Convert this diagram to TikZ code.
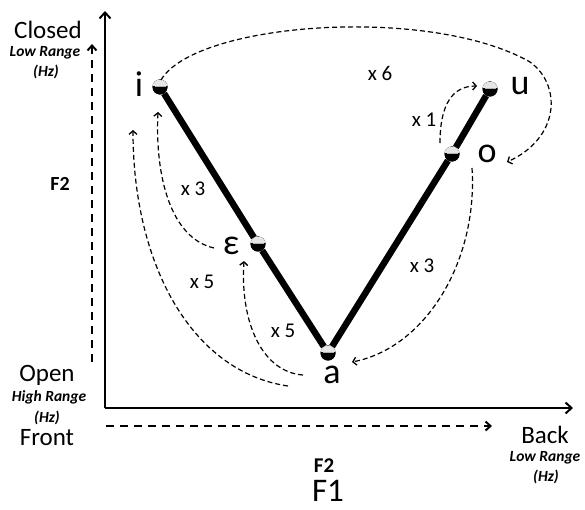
\documentclass[tikz,border=0pt]{standalone}
\usepackage{fontspec}
\setmainfont{Carlito}
\usetikzlibrary{arrows.meta}
\begin{document}
\begin{tikzpicture}[x=1pt,y=-1pt,
  vdot/.style={circle,fill=black,minimum size=15pt,inner sep=0pt,
    path picture={\fill[gray!20] (path picture bounding box.north west) rectangle ([yshift=1pt]path picture bounding box.east);
      \draw[gray!60,line width=0.6pt] ([xshift=2pt,yshift=1pt]path picture bounding box.west) -- ([xshift=-2pt,yshift=1pt]path picture bounding box.east);}},
  vlabel/.style={font=\fontsize{36}{38}\selectfont},
  axlabel/.style={font=\fontsize{25}{27}\selectfont},
  rangelabel/.style={font=\fontsize{15.5}{17}\selectfont\bfseries\itshape},
  cnt/.style={font=\fontsize{21}{23}\selectfont},
  axis/.style={line width=2.2pt,-{Straight Barb[length=6pt,width=11pt,line width=2pt]}},
  daxis/.style={line width=2.6pt,dash pattern=on 8pt off 6pt,-{Straight Barb[length=5pt,width=9pt,line width=2pt]}},
  vline/.style={line width=6.5pt},
  move/.style={line width=1.2pt,dash pattern=on 5pt off 3pt,-{Straight Barb[length=3.5pt,width=8pt,line width=1.3pt]}}
]
\useasboundingbox (0,0) rectangle (585,509);
% axes
\coordinate (O) at (105,408);
\coordinate (Ytop) at (105,11);
\coordinate (Xend) at (573,408);
\draw[axis] (O) -- (Ytop);
\draw[axis] (O) -- (Xend);
\coordinate (dy0) at (92,362);
\coordinate (dy1) at (92,44);
\draw[daxis] (dy0) -- (dy1);
\coordinate (dx0) at (106,426);
\coordinate (dx1) at (492,426);
\draw[daxis] (dx0) -- (dx1);
% axis labels
\node[axlabel] (closed) at (48,30) {Closed};
\node[rangelabel] (lr1) at (45,53) {Low Range};
\node[rangelabel] (hz1) at (46,72) {(Hz)};
\node[font=\fontsize{20}{22}\selectfont\bfseries] (f2l) at (60,184) {F2};
\node[axlabel] (open) at (47,375) {Open};
\node[rangelabel] (hr) at (49,397) {High Range};
\node[rangelabel] (hz2) at (47,418) {(Hz)};
\node[axlabel] (front) at (47,438) {Front};
\node[axlabel] (back) at (545,435) {Back};
\node[rangelabel] (lr2) at (545,458) {Low Range};
\node[rangelabel] (hz3) at (546,477) {(Hz)};
\node[font=\fontsize{21}{23}\selectfont\bfseries] (f2b) at (324,466) {F2};
\node[font=\fontsize{33}{35}\selectfont] (f1b) at (328,491) {F1};
% vowel points
\node[vdot] (i) at (160,87) {};
\node[vdot] (u) at (490,89) {};
\node[vdot] (o) at (452,154) {};
\node[vdot] (e) at (258,244) {};
\node[vdot] (a) at (328,353) {};
\draw[vline] (i) -- (e) -- (a) -- (o) -- (u);
\node[vdot] at (i) {};
\node[vdot] at (u) {};
\node[vdot] at (o) {};
\node[vdot] at (e) {};
\node[vdot] at (a) {};
% vowel labels
\node[vlabel] (il) at (139,84) {i};
\node[vlabel] (ul) at (520,86) {u};
\node[vlabel] (ol) at (487,154) {o};
\node[vlabel] (el) at (231,246) {ε};
\node[vlabel] (al) at (332,375) {a};
% movements
\coordinate (s6) at (161,80);
\coordinate (t6) at (507,162);
\draw[move] (s6) .. controls (195,22) and (430,5) .. (530,62) .. controls (562,85) and (560,138) .. (t6);
\node[cnt] (c6) at (380,73) {x 6};
\coordinate (s1) at (440,143);
\coordinate (t1) at (477,86);
\draw[move] (s1) .. controls (440,105) and (452,86) .. (t1);
\node[cnt] (c1) at (424,120) {x 1};
\coordinate (s3r) at (472,168);
\coordinate (t3r) at (352,362);
\draw[move] (s3r) .. controls (478,262) and (425,348) .. (t3r);
\node[cnt] (c3r) at (422,266) {x 3};
\coordinate (s3l) at (214,248);
\coordinate (t3l) at (158,112);
\draw[move] (s3l) .. controls (170,238) and (155,175) .. (t3l);
\node[cnt] (c3l) at (193,189) {x 3};
\coordinate (s5l) at (288,386);
\coordinate (t5l) at (133,130);
\draw[move] (s5l) .. controls (192,372) and (133,265) .. (t5l);
\node[cnt] (c5l) at (202,282) {x 5};
\coordinate (s5s) at (303,375);
\coordinate (t5s) at (244,261);
\draw[move] (s5s) .. controls (262,372) and (240,322) .. (t5s);
\node[cnt] (c5s) at (283,331) {x 5};
\end{tikzpicture}
\end{document}
